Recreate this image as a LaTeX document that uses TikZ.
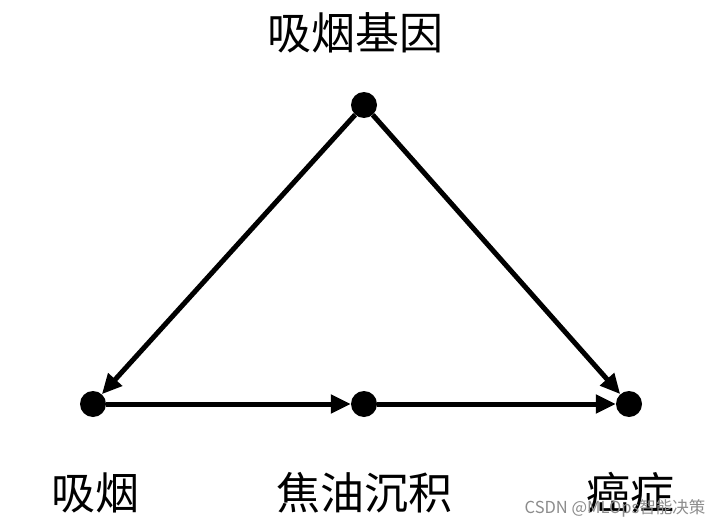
\documentclass[tikz,border=0pt]{standalone}
\usepackage{fontspec}
\newfontfamily\cjk{Noto Sans CJK SC}
\usetikzlibrary{arrows.meta}
\tikzset{
  dot/.style={circle,fill=black,inner sep=0pt,minimum size=26pt},
  lbl/.style={font=\cjk\fontsize{44}{48}\selectfont,inner sep=0pt},
  link/.style={line width=5pt,-{Triangle[length=20pt,width=18pt]}}
}
\begin{document}
\begin{tikzpicture}[x=1pt,y=-1pt]
            \useasboundingbox[fill=white](0,0)rectangle(723,527);
            \node[dot](gene)at(364,105){};
            \node[dot](smoke)at(93,404){};
            \node[dot](tar)at(364,404){};
            \node[dot](cancer)at(629,404){};
            \draw[link](gene)--(smoke);
            \draw[link](gene)--(cancer);
            \draw[link](smoke)--(tar);
            \draw[link](tar)--(cancer);
            \node[lbl]at(355,33){吸烟基因};
            \node[lbl]at(95,493){吸烟};
            \node[lbl]at(364,493){焦油沉积};
            \node[lbl]at(630,493){癌症};
            \node[font=\cjk\fontsize{16.5}{18}\selectfont,text=black!45,inner sep=0pt]at(615,508){CSDN @MLOps智能决策};
        \end{tikzpicture}
\end{document}
